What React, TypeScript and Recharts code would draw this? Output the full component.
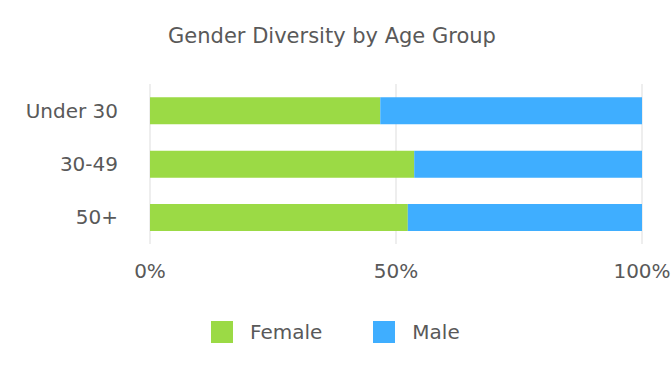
import { Bar, BarChart, CartesianGrid, XAxis, YAxis } from "recharts";

const ageGroups = ["Under 30", "30-49", "50+"];
const femaleShare = [46.8, 53.7, 52.4];
const maleShare = [53.2, 46.3, 47.6];
const percentTicks = [0, 50, 100];

const data = ageGroups.map((group, i) => ({
  group,
  female: femaleShare[i],
  male: maleShare[i],
}));

const FONT = "'DejaVu Sans', sans-serif";
const TEXT = "#595959";
const GREEN = "#9bda45";
const BLUE = "#3faeff";

function LegendRow() {
  const items = [
    { label: "Female", color: GREEN },
    { label: "Male", color: BLUE },
  ];
  return (
    <div style={{ position: "absolute", left: 211, top: 321, display: "flex", gap: 51 }}>
      {items.map((it) => (
        <div key={it.label} style={{ display: "flex", alignItems: "center", height: 22 }}>
          <span style={{ width: 22, height: 22, background: it.color, marginRight: 17 }} />
          <span style={{ fontSize: 20, color: TEXT, fontFamily: FONT }}>{it.label}</span>
        </div>
      ))}
    </div>
  );
}

export default function App() {
  return (
    <div style={{ position: "absolute", left: 0, top: 0, width: 672, height: 384, background: "#fff" }}>
      <div
        style={{
          position: "absolute",
          top: 24,
          left: -4,
          width: 672,
          textAlign: "center",
          fontFamily: FONT,
          fontSize: 21,
          color: TEXT,
        }}
      >
        Gender Diversity by Age Group
      </div>
      <BarChart
        width={672}
        height={384}
        data={data}
        layout="vertical"
        margin={{ top: 84, right: 30, bottom: 0, left: 0 }}
        barCategoryGap="25%"
        style={{ fontFamily: FONT }}
      >
        <CartesianGrid horizontal={false} stroke="#dddddd" />
        <XAxis
          type="number"
          domain={[0, 100]}
          ticks={percentTicks}
          tickFormatter={(v) => `${v}%`}
          axisLine={false}
          tickLine={false}
          tickSize={0}
          tickMargin={20}
          height={140}
          tick={{ fill: TEXT, fontSize: 20 }}
        />
        <YAxis
          type="category"
          dataKey="group"
          width={150}
          axisLine={false}
          tickLine={false}
          tickSize={0}
          tickMargin={32}
          tick={{ fill: TEXT, fontSize: 20 }}
        />
        <Bar dataKey="female" name="Female" stackId="a" fill={GREEN} isAnimationActive={false} />
        <Bar dataKey="male" name="Male" stackId="a" fill={BLUE} isAnimationActive={false} />
      </BarChart>
      <LegendRow />
    </div>
  );
}
